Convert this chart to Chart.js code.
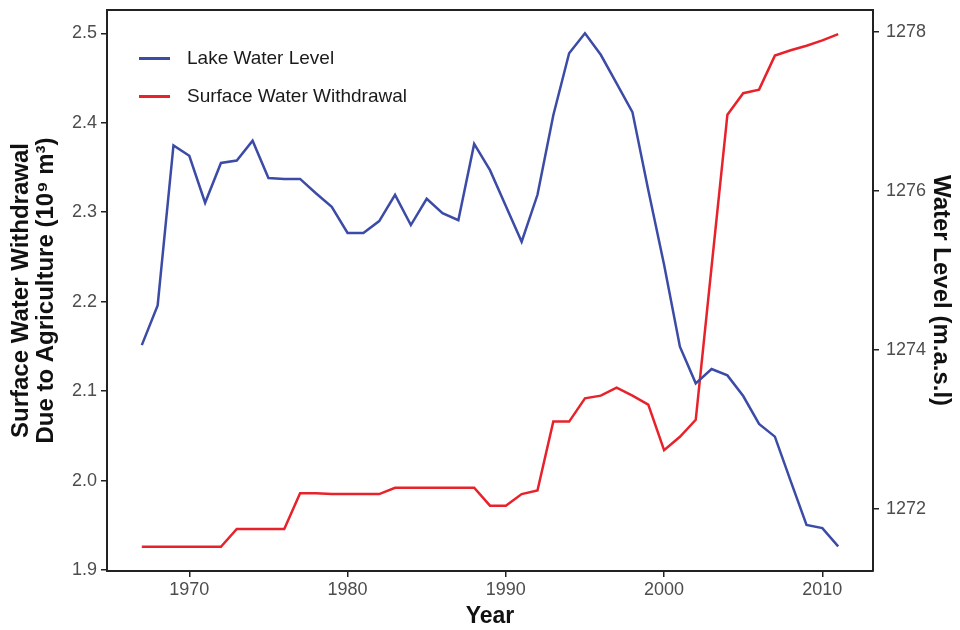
<!DOCTYPE html>
<html>
<head>
<meta charset="utf-8">
<script src="https://cdn.jsdelivr.net/npm/chart.js@4"></script>
<style>
  body { margin: 0; background: #fff; }
  #wrap { position: relative; width: 960px; height: 630px; }
  .legend { position: absolute; left: 139px; top: 0; font-family: "Liberation Sans", Arial, sans-serif; font-size: 19px; color: #1a1a1a; }
  .legend .row { position: absolute; left: 0; white-space: nowrap; height: 24px; line-height: 24px; }
  .legend .swatch { position: absolute; left: 0; top: 11px; width: 31px; height: 2.5px; }
  .legend .label { position: absolute; left: 48px; top: 0; }
</style>
</head>
<body>
<div id="wrap">
  <canvas id="chart"></canvas>
  <div class="legend">
    <div class="row" style="top:46px"><span class="swatch" style="background:#3B4BA6"></span><span class="label">Lake Water Level</span></div>
    <div class="row" style="top:84px"><span class="swatch" style="background:#E8222B"></span><span class="label">Surface Water Withdrawal</span></div>
  </div>
</div>
<script>
// Years on the x axis
const years = [1967, 1968, 1969, 1970, 1971, 1972, 1973, 1974, 1975, 1976,
  1977, 1978, 1979, 1980, 1981, 1982, 1983, 1984, 1985, 1986,
  1987, 1988, 1989, 1990, 1991, 1992, 1993, 1994, 1995, 1996,
  1997, 1998, 1999, 2000, 2001, 2002, 2003, 2004, 2005, 2006,
  2007, 2008, 2009, 2010, 2011];

// Lake water level (m.a.s.l), right axis
const lakeLevel = [1274.06, 1274.56, 1276.57, 1276.44, 1275.85, 1276.35, 1276.38, 1276.63, 1276.16, 1276.15,
  1276.15, 1275.97, 1275.80, 1275.47, 1275.47, 1275.62, 1275.95, 1275.57, 1275.90, 1275.72,
  1275.63, 1276.59, 1276.26, 1275.81, 1275.36, 1275.95, 1276.95, 1277.73, 1277.98, 1277.71,
  1277.35, 1276.99, 1276.01, 1275.07, 1274.04, 1273.58, 1273.76, 1273.68, 1273.42, 1273.07,
  1272.91, 1272.35, 1271.80, 1271.76, 1271.53];

// Surface water withdrawal due to agriculture (10^9 m3), left axis
const withdrawal = [1.926, 1.926, 1.926, 1.926, 1.926, 1.926, 1.946, 1.946, 1.946, 1.946,
  1.986, 1.986, 1.985, 1.985, 1.985, 1.985, 1.992, 1.992, 1.992, 1.992,
  1.992, 1.992, 1.972, 1.972, 1.985, 1.989, 2.066, 2.066, 2.092, 2.095,
  2.104, 2.095, 2.085, 2.034, 2.049, 2.068, 2.239, 2.409, 2.433, 2.437,
  2.475, 2.481, 2.486, 2.492, 2.499];

// Tick labels
const yearTicks = [1970, 1980, 1990, 2000, 2010];
const withdrawalTicks = [1.9, 2.0, 2.1, 2.2, 2.3, 2.4, 2.5];
const levelTicks = [1272, 1274, 1276, 1278];

const FONT = '"Liberation Sans", Arial, Helvetica, sans-serif';
const AXIS = '#222';
const TICK_TEXT = '#4d4d4d';

function toPoints(values) {
  return years.map((y, i) => ({ x: y, y: values[i] }));
}

function fixedTicks(list) {
  return scale => { scale.ticks = list.map(v => ({ value: v })); };
}

// force axis size and drop the extra label padding chart.js reserves
function fitAxis(size) {
  return s => {
    if (s.isHorizontal()) s.height = size; else s.width = size;
    s.paddingTop = 0;
    s.paddingBottom = 0;
    s.paddingLeft = 0;
    s.paddingRight = 0;
  };
}

// top edge of the panel frame
const frameTop = {
  id: 'frameTop',
  afterDraw(chart) {
    const { ctx, chartArea } = chart;
    ctx.save();
    ctx.strokeStyle = AXIS;
    ctx.lineWidth = 2;
    ctx.beginPath();
    ctx.moveTo(chartArea.left - 1, chartArea.top);
    ctx.lineTo(chartArea.right + 1, chartArea.top);
    ctx.stroke();
    ctx.restore();
  }
};

new Chart(document.getElementById('chart'), {
  type: 'line',
  data: {
    datasets: [
      {
        label: 'Lake Water Level',
        data: toPoints(lakeLevel),
        yAxisID: 'yLevel',
        borderColor: '#3B4BA6',
        borderWidth: 2.5,
        pointRadius: 0,
        tension: 0
      },
      {
        label: 'Surface Water Withdrawal',
        data: toPoints(withdrawal),
        yAxisID: 'yWith',
        borderColor: '#E8222B',
        borderWidth: 2.5,
        pointRadius: 0,
        tension: 0
      }
    ]
  },
  options: {
    responsive: true,
    maintainAspectRatio: false,
    animation: false,
    layout: { padding: { top: 10, left: 0, right: 0, bottom: 0 } },
    plugins: {
      legend: { display: false },
      tooltip: { enabled: false }
    },
    scales: {
      x: {
        type: 'linear',
        min: 1964.8,
        max: 2013.2,
        afterBuildTicks: fixedTicks(yearTicks),
        afterFit: fitAxis(59),
        grid: { drawOnChartArea: false, drawTicks: true, tickLength: 6, color: AXIS, lineWidth: 1.5 },
        border: { display: true, color: AXIS, width: 2 },
        ticks: { color: TICK_TEXT, font: { family: FONT, size: 18 }, padding: 2, maxRotation: 0,
          callback: v => String(v) },
        title: { display: true, text: 'Year', color: '#111',
          font: { family: FONT, size: 23, weight: 'bold', lineHeight: 1.05 }, padding: { top: 0, bottom: 1 } }
      },
      yWith: {
        type: 'linear',
        position: 'left',
        min: 1.899,
        max: 2.526,
        afterBuildTicks: fixedTicks(withdrawalTicks),
        afterFit: fitAxis(107),
        grid: { drawOnChartArea: false, drawTicks: true, tickLength: 6, color: AXIS, lineWidth: 1.5 },
        border: { display: true, color: AXIS, width: 2 },
        ticks: { color: TICK_TEXT, font: { family: FONT, size: 18 }, padding: 4,
          callback: v => v.toFixed(1) },
        title: { display: true, text: ['Surface Water Withdrawal', 'Due to Agriculture (10\u2079 m\u00b3)'], color: '#111',
          font: { family: FONT, size: 24, weight: 'bold', lineHeight: 1.05 }, padding: { top: 9, bottom: 0 } }
      },
      yLevel: {
        type: 'linear',
        position: 'right',
        min: 1271.221,
        max: 1278.273,
        afterBuildTicks: fixedTicks(levelTicks),
        afterFit: fitAxis(87),
        grid: { drawOnChartArea: false, drawTicks: true, tickLength: 6, color: AXIS, lineWidth: 1.5 },
        border: { display: true, color: AXIS, width: 2 },
        ticks: { color: TICK_TEXT, font: { family: FONT, size: 18 }, padding: 7,
          callback: v => String(v) },
        title: { display: true, text: 'Water Level (m.a.s.l)', color: '#111',
          font: { family: FONT, size: 24, weight: 'bold', lineHeight: 1.05 }, padding: { top: 7, bottom: 0 } }
      }
    }
  },
  plugins: [frameTop]
});
</script>
</body>
</html>
